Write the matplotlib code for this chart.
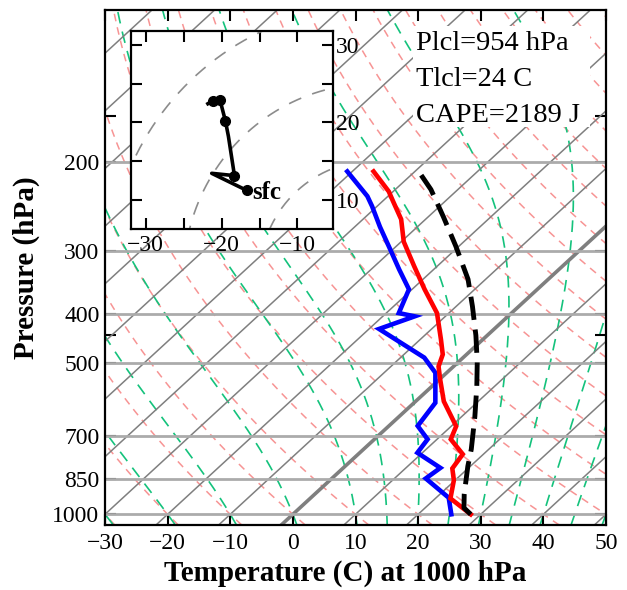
import numpy as np
import matplotlib
matplotlib.use("Agg")
import matplotlib.pyplot as plt
from matplotlib.ticker import FixedLocator, MultipleLocator, FuncFormatter
from matplotlib.patches import Rectangle

plt.rcParams["font.family"] = ["Liberation Serif", "DejaVu Serif"]

# ---------------- sounding data ----------------
temp_p = [1000, 930, 856, 811, 760, 710, 669, 597, 540, 509, 482, 450,
          399, 358, 322, 288, 260, 240, 229, 209]
temp_c = [28.4, 22.4, 19.8, 17.5, 16.7, 12.2, 10.8, 4.5, 0.1, -2.4, -3.8, -6.7,
          -11.9, -18.0, -23.7, -29.6, -33.9, -38.2, -40.7, -46.6]

dewp_p = [1000, 927, 849, 809, 755, 710, 668, 601, 524, 489, 429, 405,
          399, 358, 327, 299, 269, 245, 234, 209]
dewp_c = [25.3, 22.0, 15.0, 15.5, 9.2, 8.5, 4.6, 3.4, -1.8, -6.2, -18.4, -14.9,
          -18.0, -20.5, -25.5, -30.3, -36.0, -40.8, -43.3, -50.8]

parcel_p = [1000, 971, 913, 803, 743, 640, 558, 500, 442, 387, 342, 294,
            257, 227, 210]
parcel_c = [28.4, 26.2, 23.9, 19.6, 17.2, 12.1, 7.2, 3.1, -1.8, -7.4, -12.8,
            -20.5, -27.6, -34.3, -39.1]

# hodograph (m/s), surface first
hodo_u = [-16.7, -21.3, -18.3, -19.1, -19.5, -20.0, -20.2, -21.1, -21.8]
hodo_v = [11.2, 13.4, 13.1, 18.2, 20.2, 22.1, 22.9, 22.8, 22.4]
hodo_marked = [0, 2, 4, 6, 7]

p_lcl = 954
t_lcl = 24
cape = 2189

# ---------------- skew-T helpers ----------------
SKEW = 87.5
P_BOT, P_TOP = 1050.0, 100.0


def skew_x(t, p):
    return np.asarray(t, float) + SKEW * np.log10(1000.0 / np.asarray(p, float))


def sat_mixing(t_c, p):
    es = 6.112 * np.exp(17.67 * t_c / (t_c + 243.5))
    return 0.622 * es / (p - es)


def moist_lapse(t_k, p):
    rd, cp, lv, eps = 287.04, 1005.7, 2.501e6, 0.622
    rs = sat_mixing(t_k - 273.15, p)
    return (rd * t_k + lv * rs) / (p * (cp + lv * lv * rs * eps / (rd * t_k * t_k)))


def moist_adiabat(t0_c, pres):
    out = np.empty_like(pres)
    out[0] = t0_c + 273.15
    for i in range(1, len(pres)):
        h = pres[i] - pres[i - 1]
        t = out[i - 1]
        p = pres[i - 1]
        k1 = moist_lapse(t, p)
        k2 = moist_lapse(t + 0.5 * h * k1, p + 0.5 * h)
        k3 = moist_lapse(t + 0.5 * h * k2, p + 0.5 * h)
        k4 = moist_lapse(t + h * k3, p + h)
        out[i] = t + h * (k1 + 2 * k2 + 2 * k3 + k4) / 6.0
    return out - 273.15


# ---------------- figure ----------------
W, H = 627, 590
fig = plt.figure(figsize=(W / 100, H / 100), dpi=100)
ax = fig.add_axes([105 / W, 1 - 525 / H, 501 / W, 515 / H])
ax.set_yscale("log")
ax.set_ylim(P_BOT, P_TOP)
ax.set_xlim(-30, 50)

pp = np.geomspace(P_BOT, P_TOP, 300)

# isotherms
for t0 in range(-160, 60, 10):
    ax.plot(skew_x(np.full_like(pp, t0), pp), pp, color="#7f7f7f",
            lw=2.6 if t0 == 0 else 1.1, zorder=2)

# dry adiabats
for th in range(-50, 230, 10):
    tt = (th + 273.15) * (pp / 1000.0) ** 0.2857 - 273.15
    ax.plot(skew_x(tt, pp), pp, color="#f79494", lw=1.1,
            dashes=(5, 4), zorder=1)

# moist adiabats
p_up = np.linspace(1000.0, P_TOP, 400)
p_dn = np.linspace(1000.0, P_BOT, 20)
for t0 in [-30, -20, -10, 0, 10, 15, 20, 25, 30, 35, 40, 45, 50]:
    tu = moist_adiabat(t0, p_up)
    td = moist_adiabat(t0, p_dn)
    pa = np.concatenate([p_dn[::-1], p_up[1:]])
    ta = np.concatenate([td[::-1], tu[1:]])
    ax.plot(skew_x(ta, pa), pa, color="#14c27c", lw=1.2,
            dashes=(7, 5), zorder=1.5)

# pressure grid
p_ticks = [1000, 850, 700, 500, 400, 300, 200]
for p in p_ticks:
    ax.axhline(p, color="#ababab", lw=2.0, zorder=2.5)

# profiles
ax.plot(skew_x(dewp_c, dewp_p), dewp_p, color="#0000ff", lw=3.3,
        solid_joinstyle="miter", zorder=5)
ax.plot(skew_x(temp_c, temp_p), temp_p, color="#ff0000", lw=3.3,
        solid_joinstyle="miter", zorder=5)
ax.plot(skew_x(parcel_c, parcel_p), parcel_p, color="black", lw=3.5,
        dashes=(4.8, 2.0), zorder=6)

# axes styling
ax.yaxis.set_major_locator(FixedLocator(p_ticks))
ax.yaxis.set_major_formatter(FuncFormatter(lambda v, pos: f"{v:.0f}"))
ax.yaxis.set_minor_locator(FixedLocator([162, 441]))
ax.yaxis.set_minor_formatter(FuncFormatter(lambda v, pos: ""))
ax.xaxis.set_major_locator(MultipleLocator(10))
ax.tick_params(which="both", direction="in", top=True, right=True,
               length=8, width=1.5, labelsize=17)
ax.tick_params(axis="x", pad=6)
ax.tick_params(axis="y", pad=4)
for s in ax.spines.values():
    s.set_linewidth(1.6)
ax.set_xlabel("Temperature (C) at 1000 hPa", fontsize=21, fontweight="bold")
ax.xaxis.set_label_coords((345 - 105) / 501, -0.068)
ax.set_ylabel("Pressure (hPa)", fontsize=21, fontweight="bold", labelpad=9)

# LCL / CAPE annotation
ax.add_patch(Rectangle((413 / W, 1 - 127 / H), 177 / W, 101 / H,
                       transform=fig.transFigure, facecolor="white",
                       edgecolor="none", zorder=7))
for txt, yb in [(f"Plcl={p_lcl} hPa", 50), (f"Tlcl={t_lcl} C", 86),
                (f"CAPE={cape} J", 122)]:
    fig.text(416 / W, 1 - yb / H, txt, fontsize=20.5, ha="left",
             va="baseline", zorder=8)

# ---------------- hodograph inset ----------------
ax2 = fig.add_axes([131 / W, 1 - 229 / H, 202 / W, 198 / H])
ax2.set_zorder(10)
ax2.set_facecolor("white")
ang = np.linspace(0, 2 * np.pi, 400)
for r in [5, 15, 25, 35, 45]:
    ax2.plot(r * np.cos(ang), r * np.sin(ang), color="#8c8c8c", lw=1.2,
             dashes=(8, 7))
ax2.plot(hodo_u, hodo_v, color="black", lw=2.6, zorder=3)
ax2.plot([hodo_u[i] for i in hodo_marked], [hodo_v[i] for i in hodo_marked],
         "o", color="black", ms=7, zorder=4)
ax2.text(-16.0, 10.1, "sfc", fontsize=18, fontweight="bold",
         va="baseline", ha="left", zorder=5)
ax2.set_xlim(-31.93, -5.32)
ax2.set_ylim(6.2, 31.8)
ax2.xaxis.set_major_locator(MultipleLocator(5))
ax2.yaxis.set_major_locator(MultipleLocator(5))
tenfmt = FuncFormatter(lambda v, pos: f"{v:.0f}".replace("-", "\u2212")
                       if abs(v % 10) < 1e-6 else "")
ax2.xaxis.set_major_formatter(tenfmt)
ax2.yaxis.set_major_formatter(tenfmt)
ax2.tick_params(direction="in", top=True, right=True, left=True, bottom=True,
                labelleft=False, labelright=True, length=8, width=1.5,
                labelsize=17)
ax2.tick_params(axis="x", pad=4)
ax2.tick_params(axis="y", pad=2)
for s in ax2.spines.values():
    s.set_linewidth(1.6)

fig.savefig("out.png", dpi=100)
